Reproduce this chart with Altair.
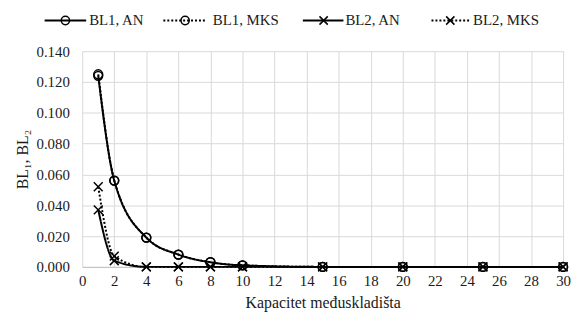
import altair as alt
import pandas as pd

# ---- data ----
x_vals = [1, 2, 4, 6, 8, 10, 15, 20, 25, 30]
bl1_an = [0.124, 0.056, 0.019, 0.008, 0.003, 0.001, 0.000, 0.000, 0.000, 0.000]
bl1_mks = [0.125, 0.056, 0.019, 0.008, 0.003, 0.001, 0.000, 0.000, 0.000, 0.000]
bl2_an = [0.037, 0.004, 0.000, 0.000, 0.000, 0.000, 0.000, 0.000, 0.000, 0.000]
bl2_mks = [0.052, 0.007, 0.000, 0.000, 0.000, 0.000, 0.000, 0.000, 0.000, 0.000]
series_names = ["BL1, AN", "BL1, MKS", "BL2, AN", "BL2, MKS"]
x_ticks = list(range(0, 31, 2))
y_ticks = [0.0, 0.02, 0.04, 0.06, 0.08, 0.10, 0.12, 0.14]

rows = []
for name, vals in zip(series_names, [bl1_an, bl1_mks, bl2_an, bl2_mks]):
    for xv, yv in zip(x_vals, vals):
        rows.append({"x": xv, "y": yv, "series": name})
df = pd.DataFrame(rows)

FONT = "Times New Roman, Liberation Serif, serif"
TXT = "#1a1a1a"
XPATH = "M-1,-1L1,1M1,-1L-1,1"
dash_range = [[1, 0], [2, 2], [1, 0], [2, 2]]
shape_range = ["circle", "circle", XPATH, XPATH]

x_axis = alt.Axis(values=x_ticks, title="Kapacitet međuskladišta",
                  labelPadding=7, titlePadding=6, format="d",
                  labelOverlap=False, labelFlush=False, labelBound=False,
                  labelFont=FONT, labelFontSize=15, labelColor=TXT,
                  titleFont=FONT, titleFontSize=16, titleFontWeight="normal", titleColor=TXT)
y_axis = alt.Axis(values=y_ticks, format=".3f", title="BL₁, BL₂",
                  labelPadding=13, titlePadding=6, domain=False,
                  labelOverlap=False, labelFlush=False, labelBound=False,
                  labelFont=FONT, labelFontSize=15, labelColor=TXT,
                  titleFont=FONT, titleFontSize=16, titleFontWeight="normal", titleColor=TXT)
x_enc = alt.X("x:Q", scale=alt.Scale(domain=[0, 30], nice=False), axis=x_axis)
y_enc = alt.Y("y:Q", scale=alt.Scale(domain=[0, 0.14], nice=False), axis=y_axis)

lines = alt.Chart(df).mark_line(color="black", strokeWidth=2, interpolate="monotone").encode(
    x=x_enc, y=y_enc,
    strokeDash=alt.StrokeDash("series:N", scale=alt.Scale(domain=series_names, range=dash_range), legend=None),
    detail="series:N",
)
points = alt.Chart(df).mark_point(filled=False, color="black", strokeWidth=1.5, opacity=1, size=80).encode(
    x=x_enc, y=y_enc,
    shape=alt.Shape("series:N", scale=alt.Scale(domain=series_names, range=shape_range), legend=None),
)

# ---- manual legend (above plot area) ----
LY = -31
legend_specs = [
    (-38, 4, -17, 7, [1, 0], "circle", series_names[0]),
    (82, 125, 104, 132, [2, 2], "circle", series_names[1]),
    (223, 264, 244, 266, [1, 0], XPATH, series_names[2]),
    (353, 391, 372, 395, [2, 2], XPATH, series_names[3]),
]
one = alt.Data(values=[{"a": 1}])
legend_layers = []
for x1, x2, xm, xt, dash, shp, label in legend_specs:
    legend_layers.append(alt.Chart(one).mark_rule(color="black", strokeWidth=2, strokeDash=dash).encode(
        x=alt.value(x1), x2=alt.value(x2), y=alt.value(LY)))
    legend_layers.append(alt.Chart(one).mark_point(filled=False, color="black", strokeWidth=1.5, opacity=1,
                                                   size=70, shape=shp).encode(
        x=alt.value(xm), y=alt.value(LY)))
    legend_layers.append(alt.Chart(one).mark_text(text=label, font=FONT, fontSize=15, align="left",
                                                  baseline="middle", color=TXT).encode(
        x=alt.value(xt), y=alt.value(LY)))

chart = alt.layer(lines, points, *legend_layers).properties(
    width=486, height=218,
    autosize=alt.AutoSizeParams(type="none"),
    padding={"left": 75, "top": 42, "right": 9, "bottom": 48},
).configure_view(stroke=None).configure_axis(
    grid=True, gridColor="#d9d9d9", gridWidth=1, ticks=False,
    domainColor="#bfbfbf", domainWidth=1,
)

chart.save("out.html", embed_options={"renderer": "svg", "actions": False})
